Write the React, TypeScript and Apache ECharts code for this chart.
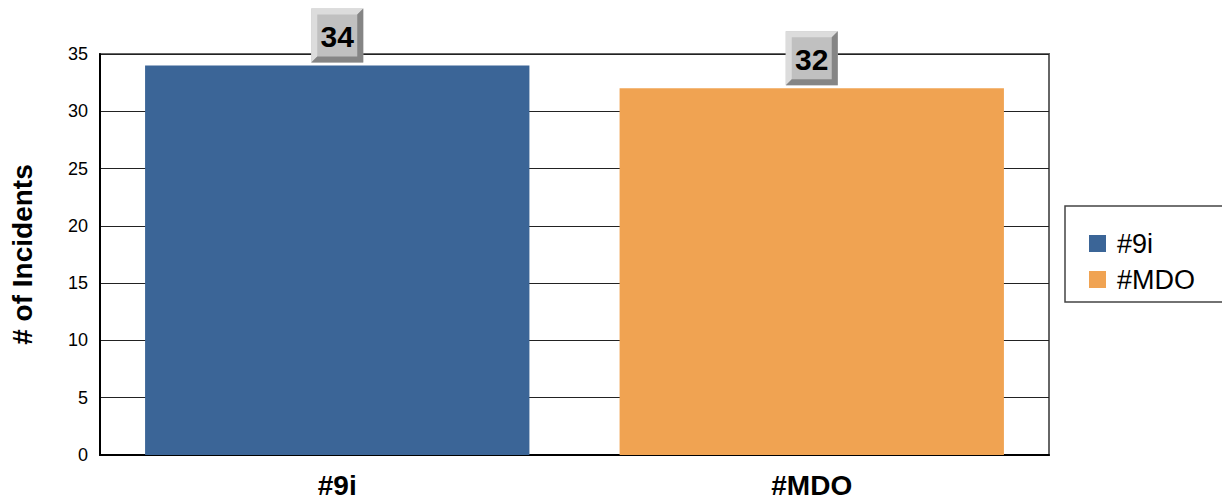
import React, { useEffect, useRef } from "react";
import * as echarts from "echarts";

const categories = ["#9i", "#MDO"];
const seriesNames = ["#9i", "#MDO"];
const values = [34, 32];
const colors = ["#3b6597", "#f0a352"];
const yTicks = { min: 0, max: 35, interval: 5 };
const yTitle = "# of Incidents";

const FONT = "'Liberation Sans', Arial, Helvetica, sans-serif";

export default function App() {
  const ref = useRef<HTMLDivElement>(null);
  useEffect(() => {
    const chart = echarts.init(ref.current!, undefined, { renderer: "svg" });
    const barSeries = seriesNames.map((name, i) => ({
      name,
      type: "bar",
      data: values.map((v, j) => (j === i ? v : "-")),
      barWidth: "81%",
      barGap: "-100%",
      itemStyle: { color: colors[i] },
      z: 3,
    }));
    const labelSeries = {
      type: "custom",
      name: "labels",
      clip: false,
      z: 10,
      data: values.map((v, i) => [i, v]),
      renderItem: (params: any, api: any) => {
        const p = api.coord([api.value(0), api.value(1)]);
        const w = 52;
        const h = 54;
        const b = 6;
        const x0 = p[0] - w / 2;
        const y1 = p[1] - 3;
        const y0 = y1 - h;
        const x1 = x0 + w;
        return {
          type: "group",
          children: [
            { type: "rect", shape: { x: x0, y: y0, width: w, height: h }, style: { fill: "#c0c0c0" } },
            {
              type: "polygon",
              shape: { points: [[x0, y0], [x1, y0], [x1 - b, y0 + b], [x0 + b, y0 + b], [x0 + b, y1 - b], [x0, y1]] },
              style: { fill: "#dcdcdc" },
            },
            {
              type: "polygon",
              shape: { points: [[x1, y0], [x1, y1], [x0, y1], [x0 + b, y1 - b], [x1 - b, y1 - b], [x1 - b, y0 + b]] },
              style: { fill: "#858585" },
            },
            {
              type: "text",
              style: {
                x: p[0],
                y: y0 + h / 2 + 1,
                text: String(api.value(1)),
                align: "center",
                verticalAlign: "middle",
                fontFamily: FONT,
                fontWeight: "bold",
                fontSize: 30,
                fill: "#000",
              },
            },
          ],
        };
      },
    };
    chart.setOption({
      animation: false,
      textStyle: { fontFamily: FONT },
      grid: {
        left: 100,
        top: 54,
        right: 181,
        bottom: 49,
        show: true,
        borderColor: "#666",
        borderWidth: 2,
        backgroundColor: "#fff",
      },
      legend: {
        orient: "vertical",
        left: 1084,
        top: 225,
        itemWidth: 17,
        itemHeight: 17,
        itemGap: 9,
        icon: "rect",
        data: seriesNames,
        textStyle: { fontSize: 27, color: "#000", fontFamily: FONT, padding: [0, 0, 0, 6], lineHeight: 27 },
      },
      graphic: [
        {
          type: "rect",
          shape: { x: 1065, y: 206, width: 162, height: 96 },
          style: { fill: "none", stroke: "#444", lineWidth: 1.5 },
          z: -1,
        },
      ],
      xAxis: {
        type: "category",
        data: categories,
        axisLine: { show: true, lineStyle: { color: "#000", width: 2 } },
        axisTick: { show: false },
        axisLabel: { fontSize: 28, fontWeight: "bold", color: "#000", margin: 16, fontFamily: FONT },
      },
      yAxis: {
        type: "value",
        min: yTicks.min,
        max: yTicks.max,
        interval: yTicks.interval,
        name: yTitle,
        nameLocation: "middle",
        nameRotate: 90,
        nameGap: 64,
        nameTextStyle: { fontSize: 28, fontWeight: "bold", color: "#000", fontFamily: FONT },
        axisLine: { show: true, lineStyle: { color: "#000", width: 2 } },
        axisTick: { show: false },
        axisLabel: { fontSize: 18, color: "#000", margin: 12, fontFamily: FONT },
        splitLine: { show: true, lineStyle: { color: "#222", width: 1 } },
      },
      series: [...barSeries, labelSeries],
    });
    return () => chart.dispose();
  }, []);
  return <div ref={ref} style={{ width: 1230, height: 504, margin: -8 }} />;
}
